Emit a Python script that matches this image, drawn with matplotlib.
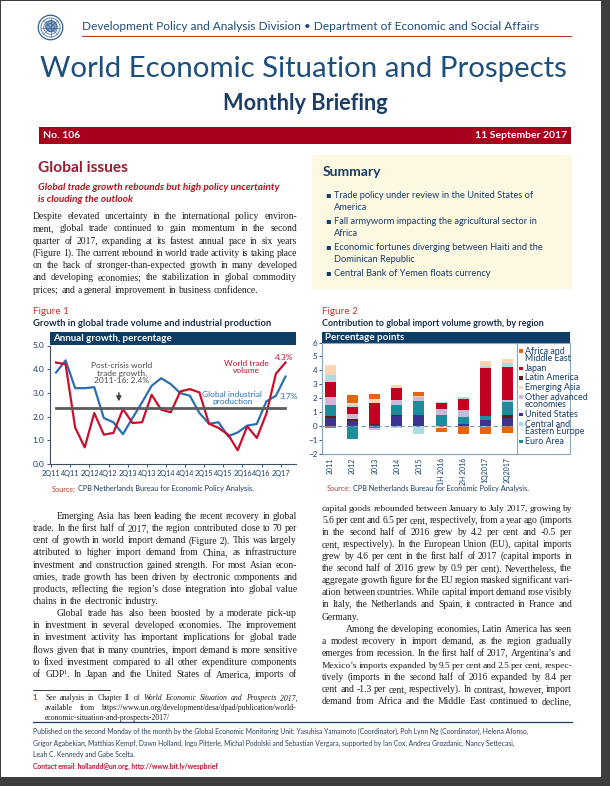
import numpy as np
import matplotlib
matplotlib.use('Agg')
import matplotlib.pyplot as plt
from matplotlib.patches import Rectangle, Circle
from matplotlib.lines import Line2D

W, H = 610, 786
SANS = ['Lato', 'DejaVu Sans']
SERIF = ['Liberation Serif', 'DejaVu Serif']
NAVY = '#173d68'
BAR = '#0d3c64'
DARKRED = '#a6001c'
RED = '#c8102e'
BLUE = '#2b6fb0'
INK = '#231f20'

# figure 1: annual growth, percentage (2Q11 .. 2Q17)
quarter_ticks = ['2Q11', '4Q11', '2Q12', '4Q12', '2Q13', '4Q13', '2Q14',
                 '4Q14', '2Q15', '4Q15', '2Q16', '4Q16', '2Q17']
world_trade = [4.28, 4.21, 1.54, 0.70, 2.15, 1.24, 1.31, 2.32, 1.73, 1.76,
               2.92, 2.29, 2.18, 3.06, 3.16, 3.02, 1.70, 1.52, 1.24, 0.58,
               1.59, 1.10, 2.12, 3.81, 4.28]
industrial_production = [3.86, 4.37, 3.20, 3.20, 3.24, 1.94, 1.76, 1.26, 1.94,
                         2.60, 3.30, 3.62, 3.37, 2.99, 2.88, 2.15, 1.70, 1.76,
                         1.17, 1.33, 1.62, 1.69, 2.64, 2.88, 3.69]
post_crisis_avg = 2.35

# figure 2: contribution to import volume growth, percentage points
periods = ['2011', '2012', '2013', '2014', '2015', '1H 2016', '2H 2016',
           '1Q2017', '2Q2017']
united_states = [0.55, 0.35, 0.07, 0.70, 0.82, 0.00, 0.15, 0.45, 0.60]
latin_america = [0.20, 0.15, 0.10, 0.10, 0.00, 0.00, 0.00, 0.00, 0.20]
euro_area = [0.75, -0.95, -0.12, 0.75, 1.00, 0.82, 0.50, 0.30, 0.95]
other_advanced = [0.60, 0.40, -0.13, 0.35, 0.28, 0.43, 0.50, -0.08, 0.10]
japan = [1.10, 0.50, 1.50, 0.85, 0.00, 0.40, 0.80, 3.40, 2.40]
central_eastern_europe = [0.50, 0.15, 0.00, -0.12, -0.60, 0.07, 0.15, 0.15, 0.25]
emerging_asia = [0.65, 0.10, 0.30, 0.20, 0.05, -0.15, 0.00, 0.35, 0.35]
africa_middle_east = [-0.15, 0.60, 0.35, 0.00, 0.28, -0.30, -0.55, -0.50, -0.50]

# stacking order, bottom up
stack = [
    ('United States', united_states, '#3b3591'),
    ('Latin America', latin_america, '#5b1f1f'),
    ('Euro Area', euro_area, '#1c8d9c'),
    ('Other advanced\neconomies', other_advanced, '#cbb9d8'),
    ('Japan', japan, '#c3001f'),
    ('Central and\nEastern Europe', central_eastern_europe, '#a9dde1'),
    ('Emerging Asia', emerging_asia, '#fcd6b2'),
    ('Africa and\nMiddle East', africa_middle_east, '#e8650f'),
]
legend_order = ['Africa and\nMiddle East', 'Japan', 'Latin America',
                'Emerging Asia', 'Other advanced\neconomies', 'United States',
                'Central and\nEastern Europe', 'Euro Area']

summary_items = [
    ['Trade policy under review in the United States of', 'America'],
    ['Fall armyworm impacting the agricultural sector in', 'Africa'],
    ['Economic fortunes diverging between Haiti and the', 'Dominican Republic'],
    ['Central Bank of Yemen floats currency'],
]

# '>' = indented first line, '|' = last line of paragraph, '*' = italic word
left_top = [
    "Despite elevated uncertainty in the international policy environ-",
    "ment, global trade continued to gain momentum in the second",
    "quarter of 2017, expanding at its fastest annual pace in six years",
    "(Figure 1). The current rebound in world trade activity is taking place",
    "on the back of stronger-than-expected growth in many developed",
    "and developing economies; the stabilization in global commodity",
    "prices; and a general improvement in business confidence.|",
]
left_bottom = [
    ">Emerging Asia has been leading the recent recovery in global",
    "trade. In the first half of 2017, the region contributed close to 70 per",
    "cent of growth in world import demand (Figure 2). This was largely",
    "attributed to higher import demand from China, as infrastructure",
    "investment and construction gained strength. For most Asian econ-",
    "omies, trade growth has been driven by electronic components and",
    "products, reflecting the region\u2019s close integration into global value",
    "chains in the electronic industry.|",
    ">Global trade has also been boosted by a moderate pick-up",
    "in investment in several developed economies. The improvement",
    "in investment activity has important implications for global trade",
    "flows given that in many countries, import demand is more sensitive",
    "to fixed investment compared to all other expenditure components",
    "of GDP\u00b9. In Japan and the United States of America, imports of",
]
right_bottom = [
    "capital goods rebounded between January to July 2017, growing by",
    "5.6 per cent and 6.5 per cent, respectively, from a year ago (imports",
    "in the second half of 2016 grew by 4.2 per cent and -0.5 per",
    "cent, respectively). In the European Union (EU), capital imports",
    "grew by 4.6 per cent in the first half of 2017 (capital imports in",
    "the second half of 2016 grew by 0.9 per cent). Nevertheless, the",
    "aggregate growth figure for the EU region masked significant vari-",
    "ation between countries. While capital import demand rose visibly",
    "in Italy, the Netherlands and Spain, it contracted in France and",
    "Germany.|",
    ">Among the developing economies, Latin America has seen",
    "a modest recovery in import demand, as the region gradually",
    "emerges from recession. In the first half of 2017, Argentina\u2019s and",
    "Mexico\u2019s imports expanded by 9.5 per cent and 2.5 per cent, respec-",
    "tively (imports in the second half of 2016 expanded by 8.4 per",
    "cent and -1.3 per cent, respectively). In contrast, however, import",
    "demand from Africa and the Middle East continued to decline,",
]
footnote = [
    "See analysis in Chapter II of *World *Economic *Situation *and *Prospects *2017,",
    "available from https://www.un.org/development/desa/dpad/publication/world-",
    "economic-situation-and-prospects-2017/|",
]
footer = [
    "Published on the second Monday of the month by the Global Economic Monitoring Unit: Yasuhisa Yamamoto (Coordinator), Poh Lynn Ng (Coordinator), Helena Afonso,",
    "Grigor Agabekian, Matthias Kempf, Dawn Holland, Ingo Pitterle, Michal Podolski and Sebastian Vergara, supported by Ian Cox, Andrea Grozdanic, Nancy Settecasi,",
    "Leah C. Kennedy and Gabe Scelta.",
]

plt.rcParams['font.family'] = SANS
fig = plt.figure(figsize=(W / 100, H / 100), dpi=100)
fig.patch.set_facecolor('#3d3d3d')
rend = fig.canvas.get_renderer()


def fx(x):
    return x / W


def fy(y):
    return 1 - y / H


def box(x0, y0, x1, y1, **kw):
    r = Rectangle((fx(x0), fy(y1)), (x1 - x0) / W, (y1 - y0) / H,
                  transform=fig.transFigure, **kw)
    fig.add_artist(r)
    return r


def hline(x0, x1, y, **kw):
    fig.add_artist(Line2D([fx(x0), fx(x1)], [fy(y), fy(y)],
                          transform=fig.transFigure, **kw))


def txt(x, y, s, size, **kw):
    return fig.text(fx(x), fy(y), s, fontsize=size, **kw)


def width_of(t):
    return t.get_window_extent(renderer=rend).width


def fit(x, y, s, width, **kw):
    t = txt(x, y, s, 10, **kw)
    t.set_fontsize(10 * width / width_of(t))
    return t


def put_words(x, y, width, line, size, justify, family=SERIF, color=INK):
    arts, ws = [], []
    for w in line.split(' '):
        style = 'italic' if w.startswith('*') else 'normal'
        t = txt(x, y, w.lstrip('*'), size, family=family, color=color,
                style=style, va='baseline')
        arts.append(t)
        ws.append(width_of(t))
    n = len(arts)
    min_gap = size * 0.16 * 100 / 72
    if n > 1 and sum(ws) + min_gap * (n - 1) > width:
        # too tight: shrink this line a little
        k = width / (sum(ws) + min_gap * (n - 1))
        for t in arts:
            t.set_fontsize(size * k)
        ws = [w * k for w in ws]
    gap = size * 0.25 * 100 / 72
    if justify and n > 1:
        gap = (width - sum(ws)) / (n - 1)
    cx = x
    for t, w in zip(arts, ws):
        t.set_x(fx(cx))
        cx += w + gap


def paragraph(x, y0, width, lines, size, step, indent=24):
    for i, line in enumerate(lines):
        ind = 0
        just = True
        if line.startswith('>'):
            ind, line = indent, line[1:]
        if line.endswith('|'):
            just, line = False, line[:-1]
        put_words(x + ind, y0 + i * step, width - ind, line, size, just)


def natural_ratios(lines, width, indent=24):
    ratios = []
    for line in lines:
        if line.endswith('|'):
            continue
        avail = width - (indent if line.startswith('>') else 0)
        t = txt(0, 0, line.strip('>').replace('*', ''), 10, family=SERIF)
        ratios.append(avail / width_of(t))
        t.remove()
    return ratios


# page
box(1, 1, 601, 777, facecolor='white', edgecolor='none', zorder=-5)

# UN emblem
lg = fig.add_axes([fx(37), fy(41), 27 / W, 27 / H])
lg.set_xlim(-1.1, 1.1)
lg.set_ylim(-1.1, 1.1)
lg.set_aspect('equal')
lg.axis('off')
for r in (1.0, 0.78, 0.55, 0.32):
    lg.add_patch(Circle((0, 0), r, fill=False, ec='#2f5f98', lw=0.9 if r == 1.0 else 0.5))
lg.add_patch(Circle((0.05, 0.1), 0.45, color='#2f5f98', alpha=0.55))
for a in np.linspace(0, 2 * np.pi, 8, endpoint=False):
    lg.plot([0, 0.78 * np.cos(a)], [0, 0.78 * np.sin(a)], color='#2f5f98', lw=0.4)

# masthead
fit(82, 26.5, 'Development Policy and Analysis Division \u2022 Department of Economic and Social Affairs',
    455, color='#1f4d7a', va='center')
hline(82, 571, 36, color='#c0392b', lw=0.8)
fit(40, 69, 'World Economic Situation and Prospects', 529, color='#1d4f7e',
    weight='normal', va='center')
fit(305, 103, 'Monthly Briefing', 165, color='#1b3d66', weight='bold',
    ha='center', va='center')
box(39, 127, 571, 144, facecolor=DARKRED, edgecolor='none')
txt(43, 135.5, 'No. 106', 7.5, color='white', weight='bold', va='center')
txt(567, 135.5, '11 September 2017', 7.5, color='white', weight='bold',
    va='center', ha='right')

# left column heading
fit(38, 168, 'Global issues', 90, color='#9b1b30', weight='bold', va='center')
sub = fit(38, 187, 'Global trade growth rebounds but high policy uncertainty', 242,
          color='#b5121b', weight='bold', style='italic', va='center')
txt(38, 200, 'is clouding the outlook', sub.get_fontsize(), color='#b5121b',
    weight='bold', style='italic', va='center')

ratios = (natural_ratios(left_top, 264) + natural_ratios(left_bottom, 264)
          + natural_ratios(right_bottom, 250))
body = 10 * np.percentile(ratios, 20)
paragraph(33, 219, 264, left_top, body, 12.3)
paragraph(33, 519, 264, left_bottom, body, 12.15)
paragraph(322, 511, 250, right_bottom, body, 12.06)

# summary box
box(312, 155, 572, 289, facecolor='#fdf8e2', edgecolor='none', zorder=-4)
fit(323, 172, 'Summary', 59, color=NAVY, weight='bold', va='center')
sum_size = None
y = 195
for item in summary_items:
    txt(325, y, '\u25aa', 6, family=['DejaVu Sans'], color=NAVY, va='center')
    for k, line in enumerate(item):
        if sum_size is None:
            sum_size = fit(334, y, line, 199, color=NAVY, va='center').get_fontsize()
        else:
            txt(334, y, line, sum_size, color=NAVY, va='center')
        y += 12.5 if k < len(item) - 1 else 13
    y += 0.5

# ---------- Figure 1
txt(33, 311, 'Figure 1', 7.2, color='#c0392b', va='center')
fit(33, 323, 'Growth in global trade volume and industrial production', 239,
    color='#1a2f4c', weight='bold', va='center')
box(50, 332, 296, 344.5, facecolor=BAR, edgecolor='none')
txt(53, 338.3, 'Annual growth, percentage', 7, color='white', weight='bold',
    va='center')

ax1 = fig.add_axes([fx(50), fy(464), (296 - 50) / W, (464 - 345.5) / H])
x = np.arange(len(world_trade))
ax1.plot(x, industrial_production, color=BLUE, lw=1.6, zorder=2)
ax1.plot(x, world_trade, color=RED, lw=1.6, zorder=2)
ax1.plot([0, len(x) - 1], [post_crisis_avg] * 2, color='#5c5c5c', lw=2.0, zorder=3)
ax1.set_xlim(-0.63, 25.1)
ax1.set_ylim(0, 5)
ax1.set_xticks(np.arange(0, len(x), 2) - 0.5, quarter_ticks)
ax1.set_yticks(np.arange(0, 6), [f'{v:.1f}' for v in range(6)])
ax1.tick_params(labelsize=6, colors=NAVY, length=2.5, width=0.6, pad=1.5)
ax1.tick_params(axis='x', labelsize=5.2)
for s in ('top', 'right'):
    ax1.spines[s].set_visible(False)
for s in ('left', 'bottom'):
    ax1.spines[s].set_color('#3d4f63')
    ax1.spines[s].set_linewidth(0.8)
ax1.text(6.9, 3.83, 'Post-crisis world\ntrade growth,\n2011-16: 2.4%', fontsize=6,
         color='#4a4a4a', ha='center', va='center', linespacing=1.05)
ax1.annotate('', xy=(6.57, 2.52), xytext=(6.57, 3.12),
             arrowprops=dict(arrowstyle='-|>', color='#444444', lw=1.1,
                             mutation_scale=7))
ax1.text(19.9, 4.08, 'World trade\nvolume', fontsize=6, color=RED, ha='center',
         va='center', linespacing=1.0)
ax1.text(23.9, 4.5, '4.3%', fontsize=6, color=RED, ha='center', va='center')
ax1.text(18.45, 2.8, 'Global industrial\nproduction', fontsize=6, color=BLUE,
         ha='center', va='center', linespacing=1.0)
ax1.text(24.4, 2.85, '3.7%', fontsize=6, color=BLUE, ha='center', va='center',
         clip_on=False)

src1 = txt(52, 489, 'Source:', 5.3, color='#c0392b', va='center')
txt(52 + width_of(src1) + 2, 489, 'CPB Netherlands Bureau for Economic Policy Analysis.',
    5.3, color='#1f3a5f', va='center')

# ---------- Figure 2
txt(322, 311, 'Figure 2', 7.2, color='#c0392b', va='center')
fit(322, 323, 'Contribution to global import volume growth, by region', 221,
    color='#1a2f4c', weight='bold', va='center')
box(322, 332, 570, 342.5, facecolor=BAR, edgecolor='none')
txt(325, 337.5, 'Percentage points', 7, color='white', weight='bold', va='center')
box(322, 342.5, 570, 454, facecolor='none', edgecolor='#8aa5be', lw=0.8)

ax2 = fig.add_axes([fx(322), fy(454), (517 - 322) / W, (454 - 342.5) / H])
xi = np.arange(len(periods))
pos = np.zeros(len(periods))
neg = np.zeros(len(periods))
for name, vals, col in stack:
    v = np.array(vals)
    base = np.where(v >= 0, pos, neg)
    ax2.bar(xi, v, 0.5, bottom=base, color=col, lw=0, zorder=2)
    pos += np.clip(v, 0, None)
    neg += np.clip(v, None, 0)
ax2.axhline(0, color='#7f96ad', lw=0.8, ls=(0, (4, 3)), zorder=3)
ax2.set_xlim(-0.38, 8.43)
ax2.set_ylim(-2, 6)
ax2.set_yticks(range(-2, 7))
ax2.set_xticks(xi, periods, rotation=90)
ax2.tick_params(axis='x', length=0, labelsize=5.0, colors=NAVY, pad=2.5)
ax2.tick_params(axis='y', length=2, width=0.6, labelsize=5.8, colors=NAVY, pad=1.5)
ax2.spines['top'].set_visible(False)
for s in ('left', 'right', 'bottom'):
    ax2.spines[s].set_color('#8aa5be')
    ax2.spines[s].set_linewidth(0.8)

colors = {name: col for name, _, col in stack}
leg_size = None
ly = 351
for name in legend_order:
    box(519, ly - 1.8, 522.6, ly + 1.8, facecolor=colors[name], edgecolor='none')
    for k, part in enumerate(name.split('\n')):
        if leg_size is None:
            leg_size = fit(525, ly, part, 40, color=NAVY, va='center').get_fontsize()
        else:
            txt(525, ly, part, leg_size, color=NAVY, va='center')
        if k < len(name.split('\n')) - 1:
            ly += 7.7
    ly += 9.6

src2 = txt(327, 488.5, 'Source:', 5.3, color='#c0392b', va='center')
txt(327 + width_of(src2) + 2, 488.5, 'CPB Netherlands Bureau for Economic Policy Analysis.',
    5.3, color='#1f3a5f', va='center')

# footnote
hline(33, 110, 690, color=INK, lw=0.6)
txt(33, 700.5, '1', 5.5, color='#c0392b', weight='bold', va='baseline')
paragraph(45, 700.5, 252, footnote, 5.6, 10)

# footer
hline(33, 572, 722, color='#1b3d66', lw=0.9)
fs = fit(33, 731, footer[0], 498, color='#2b3f5c', va='center').get_fontsize()
txt(33, 743, footer[1], fs, color='#2b3f5c', va='center')
txt(33, 755, footer[2], fs, color='#2b3f5c', va='center')
txt(33, 766.5, 'Contact email: hollandd@un.org, http://www.bit.ly/wespbrief', fs,
    color='#c4122f', weight='bold', va='center')

fig.savefig('out.png', dpi=100, facecolor=fig.get_facecolor())
